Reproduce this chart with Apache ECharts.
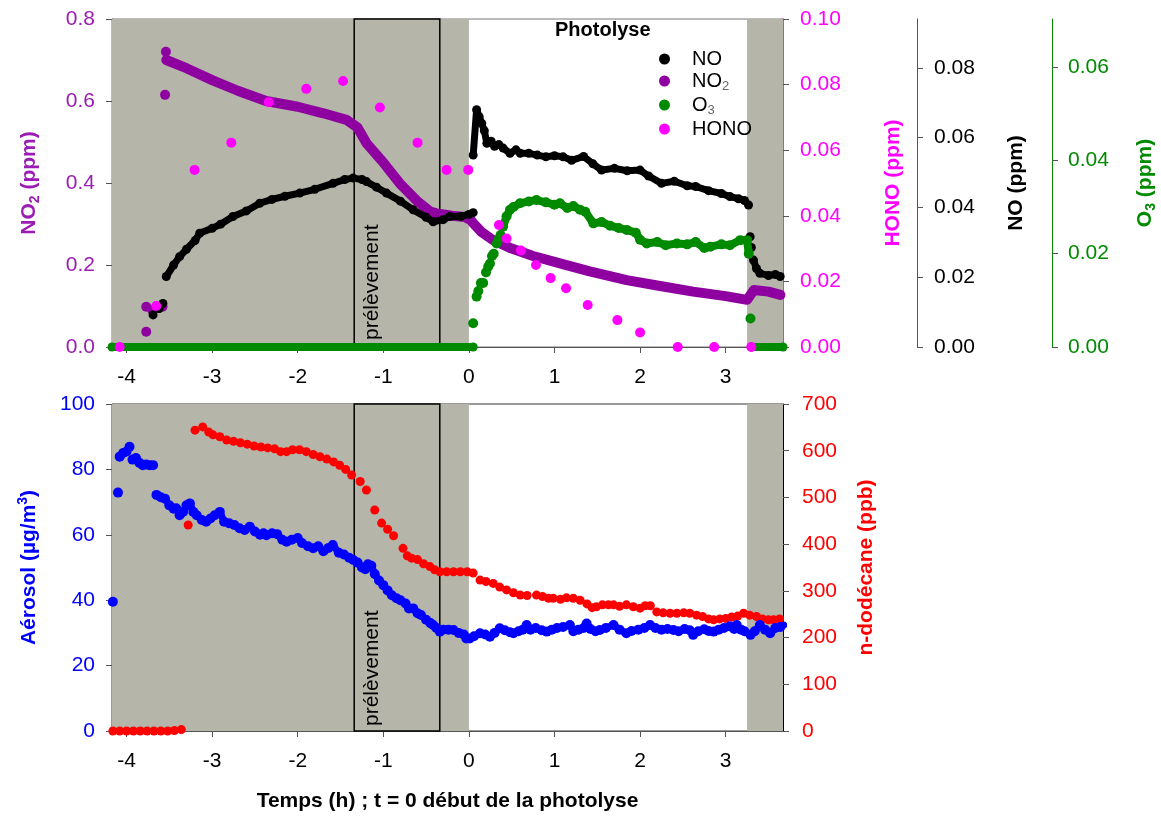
<!DOCTYPE html>
<html><head><meta charset="utf-8">
<script src="https://cdn.jsdelivr.net/npm/echarts@6/dist/echarts.min.js"></script>
<style>html,body{margin:0;padding:0;background:#fff}#c{width:1161px;height:818px}</style>
</head><body><div id="c"></div>
<script>
// ---------- axis ranges / ticks ----------
const X_MIN = -4.17, X_MAX = 3.67;
const xTicks = [-4, -3, -2, -1, 0, 1, 2, 3];
const no2Ticks = [0, 0.2, 0.4, 0.6, 0.8];
const honoTicks = [0, 0.02, 0.04, 0.06, 0.08, 0.10];
const noTicks = [0, 0.02, 0.04, 0.06, 0.08];
const o3Ticks = [0, 0.02, 0.04, 0.06];
const aeroTicks = [0, 20, 40, 60, 80, 100];
const dodecTicks = [0, 100, 200, 300, 400, 500, 600, 700];
const NO_MAX = 0.094, O3_MAX = 0.0703;

// periods
const darkPeriods = [[-4.17, 0], [3.25, 3.67]];
const samplingWindow = [-1.34, -0.34];

// ---------- top panel data (time h, ppm) ----------
const noEarly = [[-3.69, 0.0092], [-3.575, 0.0125], [-3.62, 0.011]];
const noPre = [[-3.536,0.0202],[-3.45,0.0235],[-3.38,0.0259],[-3.3,0.028],[-3.2,0.0305],[-3.146,0.0326],[-3.0,0.034],[-2.9,0.0352],[-2.757,0.0374],[-2.6,0.039],[-2.444,0.0412],[-2.3,0.0423],[-2.15,0.0432],[-1.977,0.0441],[-1.8,0.0452],[-1.587,0.0469],[-1.45,0.048],[-1.353,0.0484],[-1.25,0.048],[-1.197,0.0474],[-1.08,0.0458],[-0.963,0.0441],[-0.8,0.0418],[-0.651,0.0393],[-0.5,0.0372],[-0.417,0.0359],[-0.3,0.0365],[-0.222,0.0374],[-0.1,0.0374],[0.0,0.038],[0.05,0.0385]];
const noPost = [[0.05,0.055],[0.09,0.068],[0.12,0.066],[0.15,0.0641],[0.18,0.062],[0.21,0.0584],[0.26,0.059],[0.3,0.0575],[0.35,0.058],[0.4,0.057],[0.48,0.0555],[0.55,0.0565],[0.6,0.0555],[0.7,0.0555],[0.8,0.055],[0.9,0.0545],[1.0,0.0548],[1.1,0.0545],[1.2,0.0535],[1.34,0.0546],[1.45,0.0525],[1.55,0.0507],[1.7,0.0512],[1.85,0.0505],[2.0,0.0507],[2.1,0.049],[2.25,0.0469],[2.4,0.0475],[2.55,0.0462],[2.65,0.046],[2.8,0.0448],[2.95,0.044],[3.05,0.0431],[3.15,0.0425],[3.22,0.042],[3.267,0.0407]];
const noDrop = [[3.286,0.0316],[3.3,0.0285]];
const noTail = [[3.325,0.0249],[3.36,0.0225],[3.4,0.0211],[3.5,0.0205],[3.58,0.0208],[3.637,0.0202]];
const no2Stray = [[-3.54,0.72],[-3.55,0.615],[-3.77,0.037],[-3.77,0.098],[-3.7,0.09],[-3.62,0.095],[-3.58,0.098]];
const no2Main = [[-3.536,0.700],[-3.3,0.68],[-3.0,0.651],[-2.7,0.625],[-2.37,0.600],[-2.0,0.586],[-1.7,0.570],[-1.43,0.554],[-1.3,0.535],[-1.196,0.497],[-1.0,0.45],[-0.807,0.399],[-0.6,0.355],[-0.45,0.33],[-0.378,0.326],[-0.2,0.32],[-0.05,0.317],[0.02,0.31],[0.05,0.302],[0.15,0.28],[0.28,0.261],[0.5,0.24],[0.75,0.222],[1.064,0.204],[1.4,0.185],[1.844,0.163],[2.2,0.15],[2.62,0.135],[3.0,0.124],[3.25,0.115],[3.33,0.139],[3.5,0.135],[3.64,0.127]];
const o3ZeroPre = [[-4.17,0],[0.05,0]];
const o3Rise = [[0.05,0.0051],[0.09,0.0108],[0.11,0.012],[0.14,0.0137],[0.167,0.0137],[0.2,0.016],[0.225,0.0172],[0.246,0.0179],[0.27,0.0195],[0.29,0.02],[0.324,0.0222],[0.35,0.0232],[0.37,0.024]];
const o3Main = [[0.40,0.0258],[0.44,0.028],[0.48,0.0294],[0.52,0.03],[0.597,0.0308],[0.7,0.0312],[0.79,0.0315],[0.9,0.031],[1.0,0.0305],[1.064,0.0308],[1.15,0.0298],[1.22,0.0302],[1.298,0.0294],[1.36,0.029],[1.454,0.0265],[1.55,0.0268],[1.65,0.026],[1.75,0.0255],[1.844,0.0251],[1.95,0.0245],[2.0,0.023],[2.078,0.0222],[2.2,0.0225],[2.3,0.0218],[2.43,0.0222],[2.55,0.022],[2.65,0.0225],[2.75,0.0212],[2.82,0.0215],[2.95,0.022],[3.05,0.0218],[3.17,0.0229],[3.25,0.0229],[3.27,0.02]];
const o3Drop = [[3.29,0.0061]];
const o3ZeroPost = [[3.3,0],[3.67,0]];
const honoData = [[-4.08,0],[-3.653,0.0125],[-3.205,0.054],[-2.776,0.0623],[-2.339,0.0746],[-1.9,0.0787],[-1.47,0.0811],[-1.04,0.073],[-0.6,0.0623],[-0.26,0.054],[-0.008,0.054],[0.351,0.0372],[0.44,0.0331],[0.608,0.0294],[0.784,0.025],[0.955,0.021],[1.135,0.0179],[1.388,0.0128],[1.735,0.0082],[2.0,0.0044],[2.44,0],[2.866,0],[3.3,0]];

// ---------- bottom panel data ----------
const aeroEarly = [[-4.16,39.5],[-4.10,72.9],[-4.08,83.9],[-4.04,85],[-4.0,85.5],[-3.965,86.9],[-3.93,83],[-3.89,83.5],[-3.85,82],[-3.81,81.3],[-3.77,81.5],[-3.73,81.3],[-3.69,81.3]];
const aeroMain = [[-3.65,72.2],[-3.6,71.5],[-3.55,71],[-3.5,69],[-3.45,68],[-3.42,68.1],[-3.38,66],[-3.34,67],[-3.3,69],[-3.26,69.6],[-3.22,67],[-3.18,66],[-3.12,64.5],[-3.07,64],[-3.02,65],[-2.97,66],[-2.91,67],[-2.86,64],[-2.8,63.5],[-2.74,63],[-2.68,62],[-2.62,61.5],[-2.56,62.5],[-2.5,61],[-2.44,60],[-2.4,60.5],[-2.366,59.9],[-2.3,60.5],[-2.24,60.2],[-2.18,58.5],[-2.13,57.9],[-2.07,58.5],[-2.0,59],[-1.95,57.5],[-1.88,56.5],[-1.82,55.9],[-1.76,56.5],[-1.7,55],[-1.64,56],[-1.59,56.9],[-1.52,54.5],[-1.46,54],[-1.4,53],[-1.35,52.3],[-1.3,51.5],[-1.25,50],[-1.21,49.5],[-1.18,51],[-1.14,50.5],[-1.1,48],[-1.05,46],[-1.0,44.6],[-0.95,43],[-0.9,41.5],[-0.846,40.6],[-0.8,40],[-0.74,39],[-0.7,37.5],[-0.65,37.5],[-0.6,36],[-0.56,35.5],[-0.5,34],[-0.45,33],[-0.417,32.4],[-0.38,31.5],[-0.34,30.4],[-0.3,31],[-0.24,31],[-0.18,30.9],[-0.12,30],[-0.06,29.5],[-0.03,28.3],[0.01,28.3],[0.06,29],[0.13,29.9],[0.19,29.5],[0.246,28.8],[0.3,30],[0.36,31.4],[0.42,30.8],[0.48,30.2],[0.52,29.9],[0.58,30.5],[0.63,31],[0.675,32.4],[0.72,31],[0.78,31.5],[0.85,30.8],[0.91,30.4],[0.97,31],[1.03,31.5],[1.1,31.8],[1.18,32.4],[1.22,30.5],[1.28,31],[1.34,31.5],[1.376,32.9],[1.42,31.2],[1.48,30.5],[1.53,30.9],[1.6,31.5],[1.69,32.4],[1.76,31],[1.84,29.9],[1.9,30.6],[1.98,31],[2.05,31.5],[2.117,32.4],[2.18,31.5],[2.25,31],[2.32,31.2],[2.39,30.9],[2.45,30.5],[2.52,31.2],[2.58,30.8],[2.62,29.4],[2.68,30.5],[2.75,31.1],[2.8,30.6],[2.86,30.4],[2.92,31],[2.98,31.5],[3.05,32],[3.1,31.2],[3.13,32.4],[3.18,31],[3.22,30.5],[3.29,29.4],[3.34,30.5],[3.4,32.4],[3.46,31],[3.52,29.9],[3.58,31.5],[3.64,31.8],[3.68,32.4]];
const dodecData = [[-4.16,0],[-4.08,0],[-4.0,0],[-3.92,0],[-3.84,0],[-3.76,0],[-3.68,0],[-3.6,0],[-3.52,0],[-3.44,1],[-3.36,3],[-3.28,441],[-3.2,644],[-3.11,651],[-3.04,640],[-2.99,634],[-2.91,630],[-2.83,623],[-2.75,620],[-2.67,617],[-2.59,614],[-2.51,610],[-2.43,608],[-2.35,606],[-2.27,604],[-2.2,598],[-2.13,598],[-2.06,602],[-1.98,602],[-1.9,598],[-1.82,592],[-1.74,587],[-1.66,582],[-1.58,576],[-1.51,569],[-1.44,560],[-1.37,548],[-1.27,534],[-1.197,516],[-1.1,473],[-1.02,445],[-0.95,432],[-0.88,418],[-0.77,391],[-0.72,375],[-0.67,370],[-0.6,367],[-0.53,358],[-0.456,352],[-0.4,345],[-0.34,341],[-0.26,341],[-0.18,341],[-0.1,341],[-0.02,341],[0.05,338],[0.13,323],[0.2,320],[0.284,316],[0.36,308],[0.44,302],[0.52,296],[0.6,291],[0.68,290],[0.79,291],[0.86,288],[0.93,284],[0.986,284],[1.07,282],[1.14,285],[1.22,284],[1.3,280],[1.38,272],[1.44,264],[1.49,266],[1.56,270],[1.63,270],[1.69,270],[1.76,267],[1.84,270],[1.92,266],[2.0,263],[2.06,268],[2.12,268],[2.195,255],[2.27,253],[2.35,252],[2.43,252],[2.51,253],[2.58,252],[2.66,248],[2.73,245],[2.8,240],[2.86,238],[2.93,240],[3.0,241],[3.07,244],[3.14,246],[3.21,252],[3.28,248],[3.36,245],[3.43,240],[3.5,238],[3.56,238],[3.63,240],[3.68,241]];

// ---------- styles ----------
const FONT = 'Liberation Sans, Arial, sans-serif';
const C = {no:'#000000', no2:'#8E00A0', no2Txt:'#9B1DB3', o3:'#008A00', hono:'#FF00FF', aero:'#0000FF', dodec:'#FF0000', shade:'#B5B5AA', axis:'#555555'};
const LBL = 21;

const chart = echarts.init(document.getElementById('c'), null, {renderer:'canvas'});

function xAxisCfg(grid, withName) {
  const a = {
    type:'value', gridIndex:grid, min:X_MIN, max:X_MAX,
    axisLine:{show:true, onZero:false, lineStyle:{color:C.axis}},
    axisTick:{show:true, customValues:xTicks, length:6, lineStyle:{color:C.axis}},
    axisLabel:{customValues:xTicks, fontSize:LBL, color:'#000', margin:20, fontFamily:FONT},
    splitLine:{show:false}
  };
  if (withName) {
    a.name = 'Temps (h) ; t = 0 début de la photolyse';
    a.nameLocation = 'middle'; a.nameGap = 60;
    a.nameTextStyle = {fontSize:21, fontWeight:'bold', color:'#000', fontFamily:FONT};
  }
  return a;
}
function yAxisCfg(o) {
  const fmt = o.dec != null ? (v => v.toFixed(o.dec)) : (v => String(v));
  return {
    type:'value', gridIndex:o.grid, position:o.pos, offset:o.offset||0,
    min:o.min, max:o.max,
    axisLine:{show:true, onZero:false, lineStyle:{color:o.lineColor||C.axis, width:o.lineWidth||1}},
    axisTick:{show:true, customValues:o.ticks, length:6, lineStyle:{color:C.axis}},
    axisLabel:{customValues:o.ticks, formatter:fmt, fontSize:LBL, color:o.color, margin:o.margin||17, fontFamily:FONT},
    splitLine:{show:false},
    name:o.name, nameLocation:'middle', nameGap:o.gap,
    nameTextStyle:{fontSize:21, fontWeight:'bold', color:o.color, fontFamily:FONT, rich:o.rich||{}}
  };
}
function richFor(color) {
  return {
    b:{fontSize:21, fontWeight:'bold', color:color, lineHeight:26, fontFamily:FONT},
    s:{fontSize:14, fontWeight:'bold', color:color, lineHeight:14, verticalAlign:'bottom', fontFamily:FONT},
    p:{fontSize:14, fontWeight:'bold', color:color, lineHeight:14, verticalAlign:'top', fontFamily:FONT}
  };
}

function shadeArea(){
  const d = darkPeriods.map(p => [{xAxis:p[0], itemStyle:{color:C.shade, borderWidth:0}}, {xAxis:p[1]}]);
  d.push([{xAxis:samplingWindow[0], itemStyle:{color:'rgba(0,0,0,0)', borderColor:'#000', borderWidth:1.5}}, {xAxis:samplingWindow[1]}]);
  return {silent:true, data:d, label:{show:false}};
}

function lineSeries(name, data, xi, yi, color, lw, sym, z) {
  return {name, type:'line', xAxisIndex:xi, yAxisIndex:yi, data, z,
    symbol:'circle', symbolSize:sym, showSymbol:sym>0, showAllSymbol:true,
    itemStyle:{color}, lineStyle:{color, width:lw, cap:'round', join:'round'},
    emphasis:{disabled:true}, animation:false};
}
function scatterSeries(name, data, xi, yi, color, size, z) {
  return {name, type:'scatter', xAxisIndex:xi, yAxisIndex:yi, data, z, symbolSize:size,
    itemStyle:{color, opacity:1}, emphasis:{disabled:true}, animation:false};
}

const legendRich = {
  t:{fontSize:20, color:'#000', lineHeight:24, padding:[0,0,0,17], fontFamily:FONT},
  s:{fontSize:13, color:'#666', lineHeight:13, verticalAlign:'bottom', fontFamily:FONT}
};

const option = {
  animation:false,
  backgroundColor:'#fff',
  textStyle:{fontFamily:FONT},
  title:{text:'Photolyse', left:555, top:20, padding:0, textStyle:{fontSize:20, fontWeight:'bold', color:'#000', fontFamily:FONT}},
  legend:{
    data:['NO','NO2','O3','HONO'], orient:'vertical', left:654, top:44, itemGap:2,
    icon:'circle', itemWidth:11, itemHeight:11, selectedMode:false,
    formatter: n => n==='NO2' ? '{t|NO}{s|2}' : n==='O3' ? '{t|O}{s|3}' : '{t|'+n+'}',
    textStyle:{rich:legendRich}
  },
  grid:[
    {left:112, top:19, width:671, height:328, show:true, borderColor:'#777', borderWidth:1, backgroundColor:'rgba(0,0,0,0)', containLabel:false, outerBoundsMode:'none'},
    {left:112, top:404, width:671, height:327, show:true, borderColor:'#333', borderWidth:1, backgroundColor:'rgba(0,0,0,0)', containLabel:false, outerBoundsMode:'none'}
  ],
  xAxis:[xAxisCfg(0,false), xAxisCfg(1,true)],
  yAxis:[
    yAxisCfg({grid:0, pos:'left', min:0, max:0.8, ticks:no2Ticks, dec:1, color:C.no2Txt, margin:17, gap:70,
      name:'{b|NO}{s|2}{b| (ppm)}', rich:richFor(C.no2Txt), lineColor:'#777'}),
    yAxisCfg({grid:0, pos:'right', min:0, max:0.1, ticks:honoTicks, dec:2, color:C.hono, margin:17, gap:100,
      name:'HONO (ppm)', lineColor:C.hono, lineWidth:1.5}),
    yAxisCfg({grid:0, pos:'right', offset:134, min:0, max:NO_MAX, ticks:noTicks, dec:2, color:'#000', margin:17, gap:89,
      name:'NO (ppm)', lineColor:'#555'}),
    yAxisCfg({grid:0, pos:'right', offset:269, min:0, max:O3_MAX, ticks:o3Ticks, dec:2, color:C.o3, margin:16, gap:80,
      name:'{b|O}{s|3}{b| (ppm)}', rich:richFor(C.o3), lineColor:C.o3}),
    yAxisCfg({grid:1, pos:'left', min:0, max:100, ticks:aeroTicks, color:C.aero, margin:17, gap:70,
      name:'{b|Aérosol (µg/m}{p|3}{b|)}', rich:richFor(C.aero), lineColor:'#777'}),
    yAxisCfg({grid:1, pos:'right', min:0, max:700, ticks:dodecTicks, color:C.dodec, margin:19, gap:73,
      name:'n-dodécane (ppb)', lineColor:'#000'})
  ],
  series:[
    {type:'line', xAxisIndex:0, yAxisIndex:0, data:[], z:1, markArea:shadeArea()},
    {type:'line', xAxisIndex:1, yAxisIndex:4, data:[], z:1, markArea:shadeArea()},
    lineSeries('NO2', no2Main, 0, 0, C.no2, 10, 0, 2),
    scatterSeries('NO2', no2Stray, 0, 0, C.no2, 10, 2),
    lineSeries('NO', noPre, 0, 2, C.no, 7, 9, 3),
    lineSeries('NO', noPost, 0, 2, C.no, 7, 9, 3),
    scatterSeries('NO', noDrop, 0, 2, C.no, 9, 3),
    lineSeries('NO', noTail, 0, 2, C.no, 7, 9, 3),
    scatterSeries('NO', noEarly, 0, 2, C.no, 9, 3),
    lineSeries('O3', o3ZeroPre, 0, 3, C.o3, 8, 9, 4),
    scatterSeries('O3', o3Rise, 0, 3, C.o3, 10, 4),
    lineSeries('O3', o3Main, 0, 3, C.o3, 8, 10, 4),
    scatterSeries('O3', o3Drop, 0, 3, C.o3, 10, 4),
    lineSeries('O3', o3ZeroPost, 0, 3, C.o3, 8, 9, 4),
    scatterSeries('HONO', honoData, 0, 1, C.hono, 10, 5),
    scatterSeries('n-dodécane', dodecData, 1, 5, C.dodec, 9, 3),
    scatterSeries('Aérosol', aeroEarly, 1, 4, C.aero, 10, 4),
    lineSeries('Aérosol', aeroMain, 1, 4, C.aero, 7, 10, 4)
  ]
};
chart.setOption(option);

// "prélèvement" annotation anchored to the sampling window
const pTop = chart.convertToPixel({xAxisIndex:0, yAxisIndex:0}, [samplingWindow[0], 0]);
const pBot = chart.convertToPixel({xAxisIndex:1, yAxisIndex:4}, [samplingWindow[0], 0]);
const txt = (x, y) => ({type:'text', x, y, rotation:Math.PI/2, z:10,
  style:{text:'prélèvement', font:'21px '+FONT, fill:'#000', align:'left', verticalAlign:'middle'}});
chart.setOption({graphic:[txt(pTop[0]+18, pTop[1]-7), txt(pBot[0]+18, pBot[1]-5)]});
</script></body></html>
